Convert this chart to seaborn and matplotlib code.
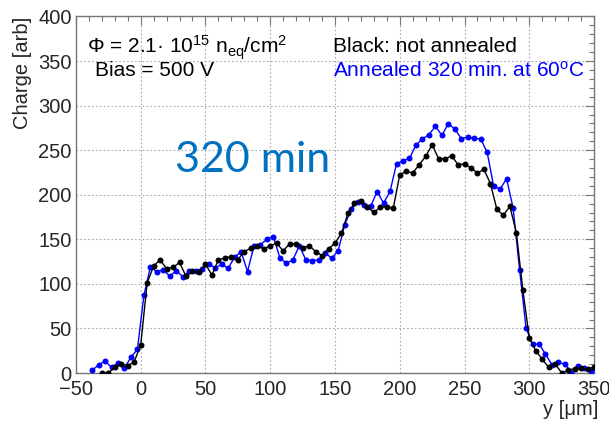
import matplotlib
matplotlib.use('Agg')
import matplotlib.pyplot as plt
import seaborn as sns
import numpy as np
import pandas as pd
from matplotlib.ticker import MultipleLocator

# scan positions (um)
black_pos = np.arange(-30, 351, 5)
blue_pos = np.arange(-37.5, 348, 5)

# not annealed (black)
black_charge = [0.5, 0, 6.5, 10.5, 8, 12.7, 31, 101, 120, 127,
                117, 118.5, 124, 108.5, 114, 113, 122, 110, 127, 129,
                130.7, 127, 136.3, 140, 142.7, 139.3, 142.7, 145.7, 137, 145,
                145, 140, 143, 136.3, 131.8, 139.3, 145.7, 157, 179, 190.5,
                193, 186.2, 180.1, 186.2, 186.2, 185, 222.5, 226.2, 224.4, 233.7,
                243, 256.2, 240.4, 240.1, 243.8, 233.7, 234.5, 230, 224.4, 228.5,
                212.4, 183.5, 177, 187, 157.6, 93.3, 39.5, 25, 15.5, 6.2,
                10.3, 0, 3, 5, 5.3, 4.1, 7]

# annealed 320 min at 60C (blue)
blue_charge = [3, 9, 13.5, 6.4, 11, 5.5, 17.6, 26.6, 87, 119,
               113.5, 115.7, 108.5, 115, 108, 114.5, 115, 116.5, 122.5, 118,
               122, 117.6, 129.6, 136.3, 113.8, 142.7, 143.8, 150.2, 153, 128.9,
               123.2, 127, 142.7, 127, 126.2, 127, 134.5, 128.9, 137.4, 166.3,
               183.5, 191.5, 188.8, 186.9, 203.4, 190.7, 203.7, 234.8, 238.2, 240.8,
               255.8, 262.6, 267.4, 276.8, 266.7, 279.8, 273.8, 263, 264.8, 263.3,
               262.6, 247.5, 209.3, 206.5, 218, 185, 116, 50.5, 32, 32.6,
               21.2, 9, 11.8, 10.1, 0.4, 7.9, 5.8, 2]

x_ticks = [-50, 0, 50, 100, 150, 200, 250, 300, 350]
y_ticks = [0, 50, 100, 150, 200, 250, 300, 350, 400]

sns.set_theme(style='white')
plt.rcParams['font.family'] = ['Liberation Sans', 'DejaVu Sans']
plt.rcParams['mathtext.fontset'] = 'custom'
plt.rcParams['mathtext.rm'] = 'Liberation Sans'
plt.rcParams['mathtext.it'] = 'Liberation Sans:italic'

fig = plt.figure(figsize=(6.09, 4.23), dpi=100)
ax = fig.add_axes([0.1246, 0.1182, 0.8509, 0.8428])

df_blue = pd.DataFrame({'pos': blue_pos, 'charge': blue_charge})
df_black = pd.DataFrame({'pos': black_pos, 'charge': black_charge})

sns.lineplot(data=df_blue, x='pos', y='charge', color='#0000ff', marker='o',
             markersize=4.3, markeredgewidth=0, linewidth=1.0, ax=ax, zorder=3)
sns.lineplot(data=df_black, x='pos', y='charge', color='black', marker='o',
             markersize=4.3, markeredgewidth=0, linewidth=1.0, ax=ax, zorder=4)

ax.set_xlim(-50, 350)
ax.set_ylim(0, 400)
ax.set_xticks(x_ticks)
ax.set_yticks(y_ticks)
ax.xaxis.set_minor_locator(MultipleLocator(10))
ax.yaxis.set_minor_locator(MultipleLocator(10))
ax.tick_params(which='both', direction='in', top=True, right=True,
               color='#777777', width=0.8)
ax.tick_params(which='major', length=6.5, labelsize=14.5, pad=3)
ax.tick_params(axis='x', which='major', pad=5)
ax.tick_params(which='minor', length=3.5)
ax.grid(True, which='major', linestyle=(0, (1.5, 2.0)), color='#aaaaaa', linewidth=0.8)
for s in ax.spines.values():
    s.set_color('#777777')
    s.set_linewidth(1.0)
ax.set_xlabel('')
ax.set_ylabel('')

ax.text(-41.5, 365, 'Φ = 2.1· 10$^{15}$ n$_{\\mathrm{eq}}$/cm$^{2}$', fontsize=15,
        ha='left', va='center', color='black')
ax.text(-35.3, 339, 'Bias = 500 V', fontsize=15, ha='left', va='center', color='black')
ax.text(148.5, 366, 'Black: not annealed', fontsize=15, ha='left', va='center', color='black')
ax.text(148.5, 339, 'Annealed 320 min. at 60$^{\\mathrm{o}}$C', fontsize=15,
        ha='left', va='center', color='#0000ff')

fig.text(23 / 609, 1 - 17 / 423, 'Charge [arb]', rotation=90, ha='center', va='top', fontsize=14.5)
fig.text(598 / 609, 1 - 409 / 423, 'y [μm]', ha='right', va='center', fontsize=14.5)
fig.text(175 / 609, 1 - 160 / 423, '320 min', ha='left', va='center', fontsize=31,
         color='#0070c0', family=['Lato', 'DejaVu Sans'])

fig.savefig('out.png', dpi=100)
